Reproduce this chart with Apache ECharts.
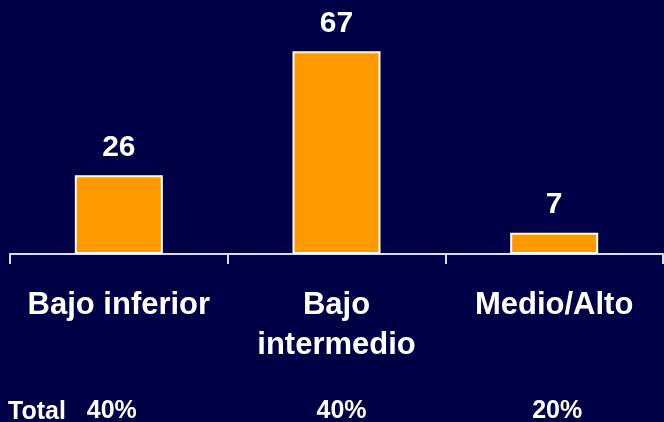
<!DOCTYPE html>
<html>
<head>
<meta charset="utf-8">
<script src="https://cdn.jsdelivr.net/npm/echarts@6/dist/echarts.min.js"></script>
<style>
  html, body { margin: 0; padding: 0; background: #000046; }
  #chart { width: 664px; height: 422px; }
</style>
</head>
<body>
<div id="chart"></div>
<script>
// Income-level groups and their counts
const categories = ['Bajo inferior', 'Bajo\nintermedio', 'Medio/Alto'];
const values = [26, 67, 7];
// Share of total per group, shown on the bottom row
const totals = ['40%', '40%', '20%'];
const totalLabel = 'Total';

const FONT = 'Arial, "Liberation Sans", Helvetica, sans-serif';
// small horizontal nudges for the bottom-row percentages
const totalPadding = [[0, 14, 0, 0], [0, 0, 0, 10], [0, 0, 0, 6]];

const chart = echarts.init(document.getElementById('chart'), null, { renderer: 'canvas' });

chart.setOption({
  backgroundColor: '#000046',
  animation: false,
  title: {
    text: totalLabel,
    left: 3,
    top: 395,
    textStyle: { color: '#ffffff', fontFamily: FONT, fontWeight: 'bold', fontSize: 25 }
  },
  grid: { left: 10, right: 1, top: 12, bottom: 168, containLabel: false, outerBoundsMode: 'none' },
  xAxis: [
    {
      type: 'category',
      data: categories,
      axisLine: { show: true, lineStyle: { color: '#dcdcf0', width: 2 } },
      axisTick: { show: true, length: 10, lineStyle: { color: '#dcdcf0', width: 2 } },
      axisLabel: {
        color: '#ffffff',
        fontFamily: FONT,
        fontWeight: 'bold',
        fontSize: 31,
        lineHeight: 40,
        margin: 31,
        interval: 0
      }
    },
    {
      type: 'category',
      data: totals.map((t, i) => ({ value: t, textStyle: { padding: totalPadding[i] } })),
      position: 'bottom',
      axisLine: { show: false },
      axisTick: { show: false },
      axisLabel: {
        color: '#ffffff',
        fontFamily: FONT,
        fontWeight: 'bold',
        fontSize: 25,
        lineHeight: 25,
        margin: 145,
        interval: 0
      }
    }
  ],
  yAxis: { type: 'value', min: 0, max: 80, show: false },
  series: [{
    type: 'bar',
    data: values,
    barWidth: 88,
    itemStyle: { color: '#ff9900', borderColor: '#ffffff', borderWidth: 2 },
    label: {
      show: true,
      position: 'top',
      distance: 13,
      color: '#ffffff',
      fontFamily: FONT,
      fontWeight: 'bold',
      fontSize: 30
    }
  }]
});
</script>
</body>
</html>
